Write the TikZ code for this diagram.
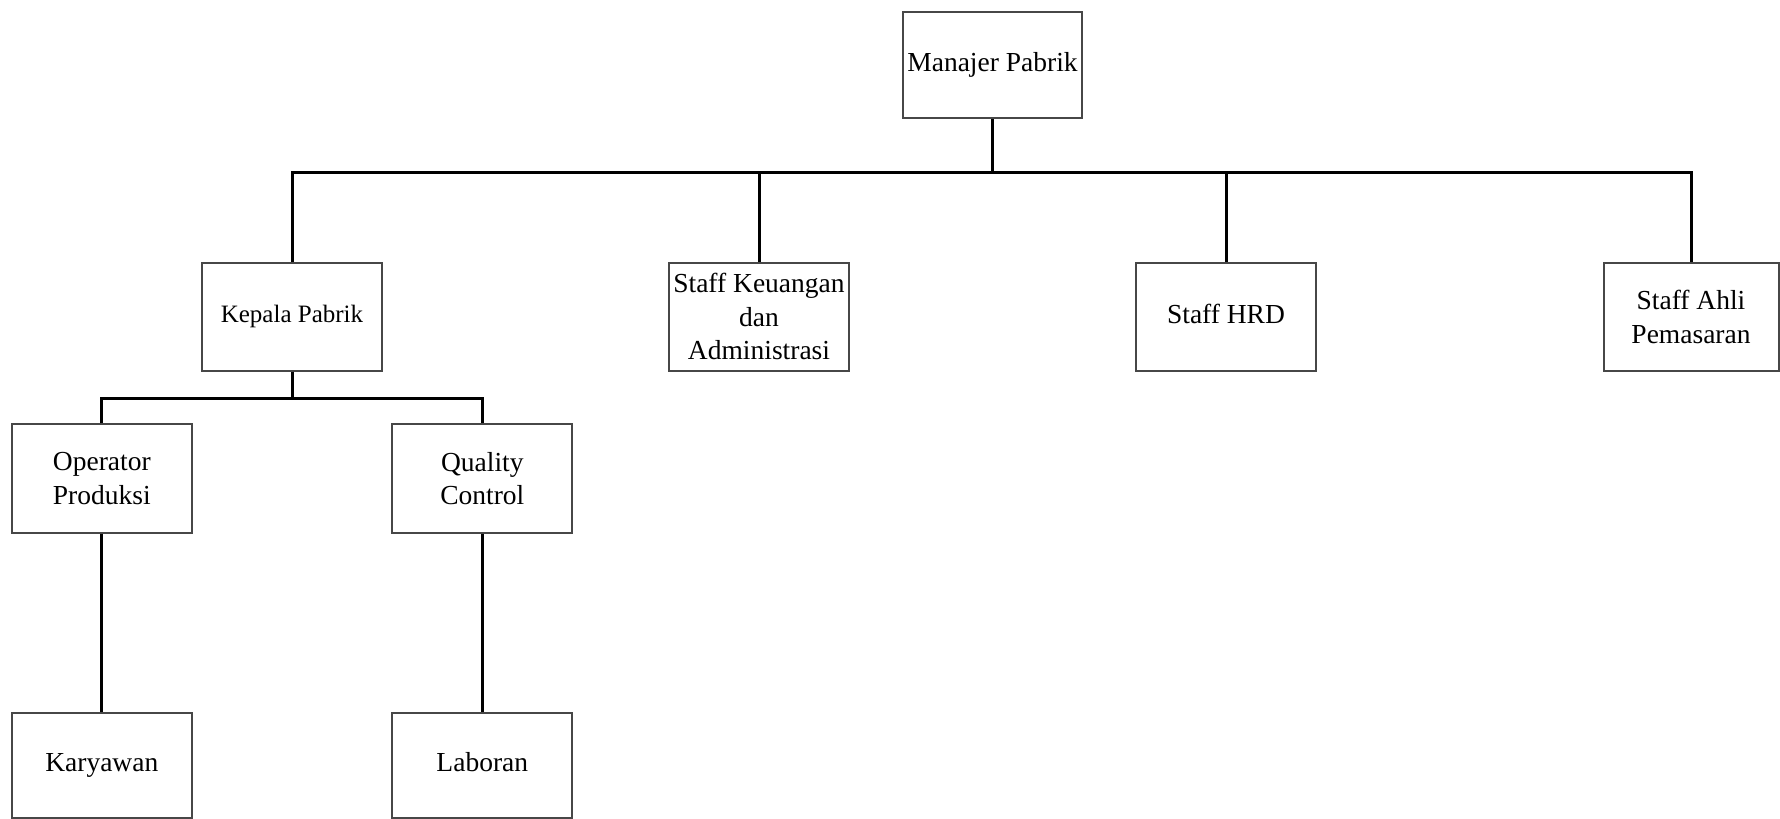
\documentclass[tikz,border=0pt]{standalone}
\usepackage{fontspec}
\setmainfont{Liberation Serif}
\begin{document}
\begin{tikzpicture}[x=1pt,y=-1pt,
  orgbox/.style={draw=black!72, line width=2pt, fill=white, inner sep=0pt,
    align=center, font=\fontsize{27.5}{33.5}\selectfont},
  link/.style={draw=black, line width=3pt}]
\useasboundingbox (0,0) rectangle (1780,819);
\fill[white] (0,0) rectangle (1780,819);
% level 1
\node[orgbox, minimum width=179pt, minimum height=106pt] (mp) at (992.5,65) {\strut Manajer Pabrik};
% level 2
\node[orgbox, minimum width=180pt, minimum height=107.5pt, font=\fontsize{25}{30}\selectfont] (kp) at (292,316.8) {\strut Kepala Pabrik};
\node[orgbox, minimum width=180pt, minimum height=107.5pt] (sk) at (759,316.8) {Staff Keuangan\\dan\\Administrasi};
\node[orgbox, minimum width=180pt, minimum height=107.5pt] (sh) at (1226,316.8) {\strut Staff HRD};
\node[orgbox, minimum width=175pt, minimum height=107.5pt] (sa) at (1691,316.8) {Staff Ahli\\Pemasaran};
% level 3
\node[orgbox, minimum width=180pt, minimum height=108.5pt] (op) at (101.8,478.5) {Operator\\Produksi};
\node[orgbox, minimum width=180pt, minimum height=108.5pt] (qc) at (482.3,478.5) {Quality\\Control};
% level 4
\node[orgbox, minimum width=180pt, minimum height=105pt] (ky) at (101.8,765) {\strut Karyawan};
\node[orgbox, minimum width=180pt, minimum height=105pt] (lb) at (482.3,765) {\strut Laboran};
% buses
\coordinate (b1) at (992.5,172);
\coordinate (b2) at (292,398);
\draw[link] (mp.south) -- (b1);
\draw[link] (kp.north) -- (kp.north |- b1) -- (sa.north |- b1) -- (sa.north);
\draw[link] (sk.north) -- (sk.north |- b1);
\draw[link] (sh.north) -- (sh.north |- b1);
\draw[link] (kp.south) -- (b2);
\draw[link] (op.north) -- (op.north |- b2) -- (qc.north |- b2) -- (qc.north);
\draw[link] (op.south) -- (ky.north);
\draw[link] (qc.south) -- (lb.north);
\end{tikzpicture}
\end{document}
